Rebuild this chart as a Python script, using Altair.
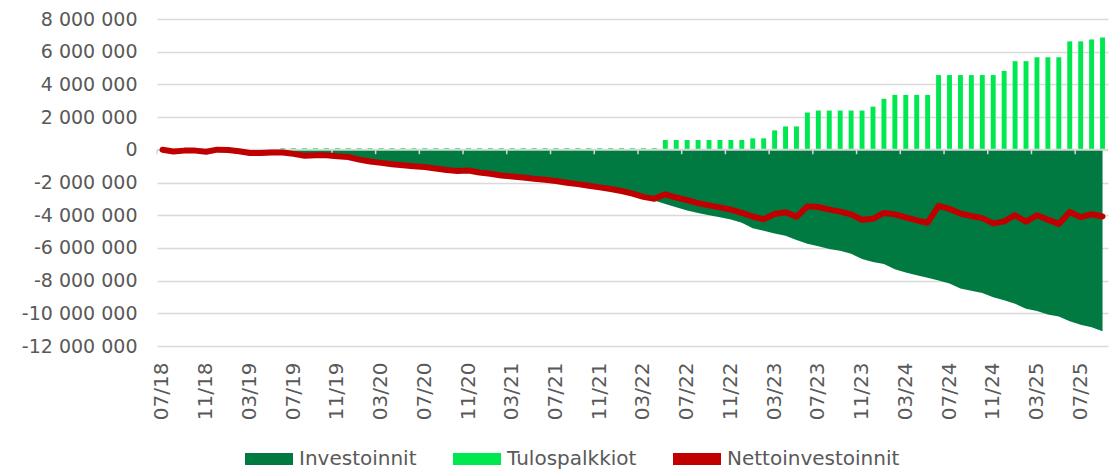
import altair as alt
import pandas as pd

# categories: monthly, 07/18 .. 09/25
months = []
yy, mm = 2018, 7
for _ in range(87):
    months.append(f"{mm:02d}/{yy % 100:02d}")
    mm += 1
    if mm > 12:
        mm = 1
        yy += 1

investoinnit = [
    0, -100000, -50000, -50000, -120000, 10000, -10000, -90000, -200000, -190000,
    -170000, -260000, -350000, -460000, -440000, -440000, -500000, -540000, -700000, -820000,
    -900000, -980000, -1040000, -1100000, -1150000, -1250000, -1330000, -1390000, -1370000, -1490000,
    -1570000, -1670000, -1730000, -1790000, -1870000, -1930000, -2010000, -2110000, -2200000, -2300000,
    -2400000, -2500000, -2620000, -2780000, -2980000, -3100000, -3320000, -3520000, -3720000, -3870000,
    -4010000, -4130000, -4270000, -4460000, -4800000, -4950000, -5120000, -5250000, -5520000, -5740000,
    -5900000, -6060000, -6180000, -6360000, -6680000, -6860000, -6980000, -7310000, -7500000, -7680000,
    -7820000, -8000000, -8180000, -8480000, -8620000, -8760000, -9020000, -9200000, -9420000, -9720000,
    -9860000, -10080000, -10200000, -10480000, -10700000, -10850000, -11100000,
]

tulospalkkiot = [
    0, 0, 0, 0, 0, 0, 0, 0, 0, 0,
    0, 100000, 100000, 100000, 100000, 100000, 100000, 100000, 100000, 100000,
    100000, 100000, 100000, 100000, 100000, 100000, 100000, 100000, 100000, 100000,
    100000, 100000, 100000, 100000, 100000, 100000, 100000, 100000, 100000, 100000,
    100000, 100000, 100000, 100000, 100000, 100000, 600000, 600000, 600000, 600000,
    600000, 600000, 600000, 600000, 700000, 700000, 1190000, 1430000, 1430000, 2280000,
    2400000, 2400000, 2400000, 2400000, 2400000, 2640000, 3120000, 3360000, 3360000, 3360000,
    3360000, 4570000, 4570000, 4570000, 4570000, 4570000, 4570000, 4820000, 5420000, 5420000,
    5660000, 5660000, 5660000, 6630000, 6630000, 6750000, 6870000,
]

nettoinvestoinnit = [
    0, -100000, -50000, -50000, -120000, 10000, -10000, -90000, -200000, -190000,
    -170000, -160000, -250000, -360000, -340000, -340000, -400000, -440000, -600000, -720000,
    -800000, -880000, -940000, -1000000, -1050000, -1150000, -1230000, -1290000, -1270000, -1390000,
    -1470000, -1570000, -1630000, -1690000, -1770000, -1830000, -1910000, -2010000, -2100000, -2200000,
    -2300000, -2400000, -2520000, -2680000, -2880000, -3000000, -2720000, -2920000, -3080000, -3260000,
    -3400000, -3520000, -3660000, -3860000, -4080000, -4250000, -3930000, -3820000, -4100000, -3460000,
    -3500000, -3660000, -3780000, -3950000, -4280000, -4220000, -3860000, -3950000, -4140000, -4320000,
    -4460000, -3430000, -3620000, -3900000, -4050000, -4180000, -4500000, -4380000, -4000000, -4400000,
    -4000000, -4270000, -4530000, -3800000, -4120000, -3940000, -4080000,
]

series = ["Investoinnit", "Tulospalkkiot", "Nettoinvestoinnit"]
colors = ["#007A40", "#00E850", "#C00000"]

label_months = months[::4]
y_values = [-12000000, -10000000, -8000000, -6000000, -4000000, -2000000,
            0, 2000000, 4000000, 6000000, 8000000]

df = pd.DataFrame({
    "kk": months,
    "inv": investoinnit,
    "tulos": tulospalkkiot,
    "netto": nettoinvestoinnit,
})
ticks_df = pd.DataFrame({"kk": label_months})

FONT = "DejaVu Sans"
GRAY = "#595959"
GRID = "#D9D9D9"

xscale = alt.Scale(domain=months, paddingInner=0, paddingOuter=0)
yscale = alt.Scale(domain=[-12000000, 8000000], nice=False, zero=False)
cscale = alt.Scale(domain=series, range=colors)

x_axis = alt.Axis(values=label_months, labelAngle=-90, ticks=False, domain=False,
                  grid=False, labelPadding=16, labelFontSize=20, labelColor=GRAY,
                  labelFont=FONT, title=None)
y_axis = alt.Axis(values=y_values,
                  labelExpr="(datum.value < 0 ? '-' : '') + replace(format(abs(datum.value), ','), regexp(',', 'g'), ' ')",
                  ticks=False, domain=False, grid=True, gridColor=GRID, gridWidth=1.5,
                  labelPadding=20, labelFontSize=19, labelColor=GRAY, labelFont=FONT,
                  title=None)
legend = alt.Legend(orient="none", legendX=88, legendY=416, direction="horizontal",
                    title=None, symbolType="M-1,-0.25H1V0.25H-1Z", symbolSize=2304,
                    symbolStrokeWidth=0, labelFontSize=20, labelFont=FONT,
                    labelColor=GRAY, columnPadding=36, labelOffset=6, labelLimit=400)


def X(**kw):
    return alt.X("kk:O", scale=xscale, axis=x_axis, title=None, **kw)


def C():
    return alt.Color("serie:N", scale=cscale, legend=legend)


base = alt.Chart(df)

area = base.mark_area(interpolate="linear", opacity=1).transform_calculate(
    serie="'Investoinnit'"
).encode(
    x=X(),
    y=alt.Y("inv:Q", scale=yscale, axis=y_axis, title=None),
    color=C(),
)

bars = base.mark_bar(width=alt.RelativeBandSize(0.45)).transform_calculate(
    serie="'Tulospalkkiot'"
).encode(
    x=X(),
    y=alt.Y("tulos:Q", scale=yscale, axis=y_axis, title=None),
    color=C(),
)

zero = alt.Chart(pd.DataFrame({"v": [0]})).mark_rule(color=GRID, strokeWidth=2).encode(
    y=alt.Y("v:Q", scale=yscale, axis=y_axis, title=None)
)

ticks = alt.Chart(ticks_df).mark_rule(color=GRID, strokeWidth=1.5).transform_calculate(
    y0="0", y1="-270000"
).encode(
    x=X(bandPosition=0),
    y=alt.Y("y0:Q", scale=yscale, axis=y_axis, title=None),
    y2="y1:Q",
)

line = base.mark_line(strokeWidth=6, strokeCap="round", strokeJoin="round").transform_calculate(
    serie="'Nettoinvestoinnit'"
).encode(
    x=X(),
    y=alt.Y("netto:Q", scale=yscale, axis=y_axis, title=None),
    color=C(),
)

chart = alt.layer(area, bars, zero, ticks, line).properties(
    width=951,
    height=327,
    padding={"left": 149, "top": 11, "right": 4, "bottom": 126},
    autosize=alt.AutoSizeParams(type="none"),
    background="white",
).configure_view(stroke=None)

chart.save("out.html", embed_options={"renderer": "svg", "actions": False})
